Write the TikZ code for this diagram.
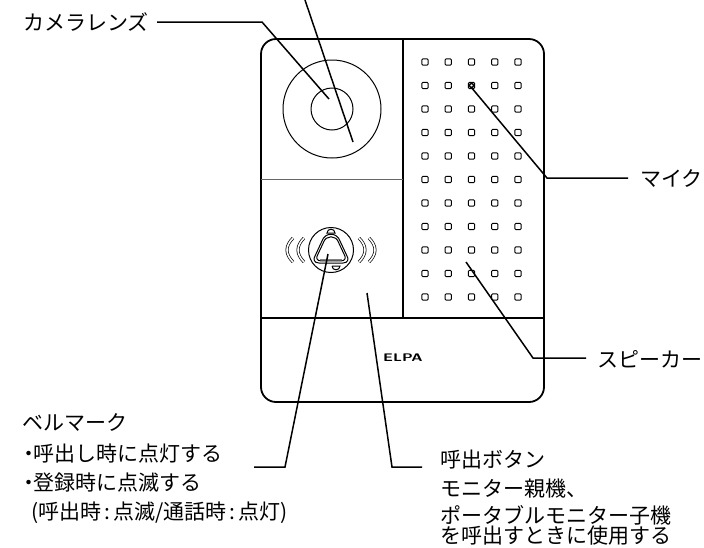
\documentclass[tikz,border=0pt]{standalone}
\usepackage{fontspec}
\setmainfont{Noto Sans CJK JP}
\tikzset{
	leader/.style={line width=1.5pt},
	body/.style={line width=1.8pt},
	thin/.style={line width=1pt},
	label/.style={anchor=west,inner sep=0pt,font=\fontsize{21}{25}\selectfont},
	hole/.style={draw,line width=0.9pt,rounded corners=1pt,minimum size=6.3pt,inner sep=0pt},
	wave/.style={double,double distance=1.6pt,line width=0.7pt}
}
\begin{document}
\begin{tikzpicture}[x=1pt,y=-1pt]
	\useasboundingbox (0,0) rectangle (704,547);

	% Корпус
	\draw[body,rounded corners=15pt] (261,39) rectangle (544,402);
	\draw[body] (403,39) -- (403,318);
	\draw[thin,color=black!60] (261,179) -- (403,179);
	\draw[line width=1.2pt] (261,318) -- (544,318);

	% Камера
	\draw[thin] (332,109) circle (49pt);
	\draw[thin] (332,109) circle (21pt);

	% Отверстия
	\foreach \row in {0,...,10}
		\foreach \col in {0,...,4}
			\node[hole] (hole\row\col) at (425+23.25*\col,62+23.5*\row) {};
	\draw[line width=1.4pt] (hole12) circle (2pt);

	% Кнопка
	\draw[thin] (331,250) circle (22.5pt);
	\foreach \s in {1,0.84}
		\draw[thin,scale around={\s:(331,250)}] (319,263) .. controls (314,263) and (313,259) .. (315,256) -- (322,241) .. controls (325,232) and (337,232) .. (340,241) -- (347,256) .. controls (349,259) and (348,263) .. (343,263) -- cycle;
	\draw[thin,color=black!50] (320,259) -- (342,259);
	\draw[thin] (327,233) .. controls (327,228) and (335,228) .. (335,233) -- cycle;
	\draw[thin] (332,266) -- (340,266) .. controls (340,271) and (332,271) .. (332,266);
	\foreach \xa in {293,304}
		\draw[wave] (\xa,238) .. controls (\xa-8,246) and (\xa-8,254) .. (\xa,262);
	\foreach \xa in {359,369}
		\draw[wave] (\xa,238) .. controls (\xa+8,246) and (\xa+8,254) .. (\xa,262);
	\node[inner sep=0pt,font=\sffamily\bfseries\fontsize{11}{11}\selectfont] (elpa) at (403,358) {\scalebox{1.4}[1]{ELPA}};

	% Подписи
	\node[label] (lens) at (23,22) {カメラレンズ};
	\node[label] (mic) at (640,178) {マイク};
	\node[label] (speaker) at (597,359) {スピーカー};
	\node[label] (bell1) at (22,422) {ベルマーク};
	\node[label] (bell2) at (18,453) {・\kern-6pt 呼出し時に点灯する};
	\node[label] (bell3) at (18,483) {・\kern-6pt 登録時に点滅する};
	\node[label] (bell4) at (31,513) {(呼出時\kern3pt:\kern3pt 点滅/通話時\kern3pt:\kern3pt 点灯)};
	\node[label] (call1) at (440,460) {呼出ボタン};
	\node[label] (call2) at (440,489) {モニター親機、};
	\node[label] (call3) at (440,515) {ポータブルモニター子機};
	\node[label] (call4) at (440,536) {を呼出すときに使用する};

	% Выноски
	\coordinate (lensStart) at (157,22);
	\coordinate (lensEnd) at (329,99);
	\coordinate (topStart) at (305,0);
	\coordinate (topEnd) at (353,142);
	\coordinate (micEnd) at (471,87);
	\coordinate (spkEnd) at (466,262);
	\coordinate (bellEnd) at (328,254);
	\coordinate (callEnd) at (367,293);
	\draw[leader] (lensStart) -- (262,22) -- (lensEnd);
	\draw[leader] (topStart) -- (topEnd);
	\draw[leader] (micEnd) -- (547,178) -- (628,178);
	\draw[leader] (spkEnd) -- (533,358) -- (586,358);
	\draw[leader] (bellEnd) -- (285,467) -- (254,467);
	\draw[leader] (callEnd) -- (392,467) -- (422,467);
\end{tikzpicture}
\end{document}
